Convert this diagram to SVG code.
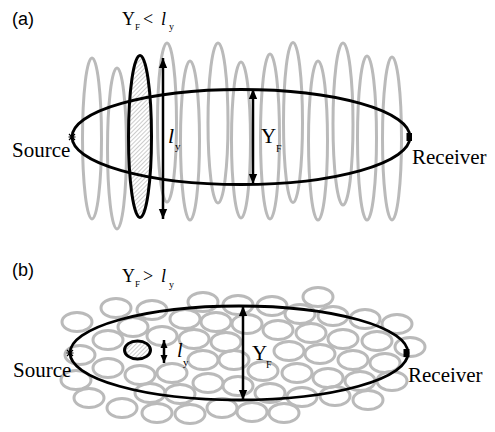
<svg xmlns="http://www.w3.org/2000/svg" width="495" height="432" viewBox="0 0 495 432">
<style>
.g{fill:none;stroke:#bababa;stroke-width:3}
.k{fill:none;stroke:#000;stroke-width:2.8}
.h{fill:url(#hatch);stroke:#000;stroke-width:3}
.t{font-family:"Liberation Serif","Times New Roman",serif;fill:#000}
.p{font-family:"Liberation Sans",Arial,sans-serif;font-size:18px;fill:#000}
.ar{stroke:#000;stroke-width:2.5;fill:none}
</style>
<defs>
<pattern id="hatch" patternUnits="userSpaceOnUse" width="3" height="3" patternTransform="rotate(45)">
<rect width="3" height="3" fill="#fff"/>
<line x1="0" y1="0" x2="0" y2="3" stroke="#9a9a9a" stroke-width="1"/>
</pattern>
<marker id="big" markerUnits="userSpaceOnUse" markerWidth="10" markerHeight="14" refX="12" refY="5" viewBox="0 0 12 10" orient="auto-start-reverse">
<path d="M0,0 L12,5 L0,10 z" fill="#000"/>
</marker>
<marker id="sm" markerUnits="userSpaceOnUse" markerWidth="8" markerHeight="8" refX="8" refY="3.5" viewBox="0 0 8 7" orient="auto-start-reverse">
<path d="M0,0 L8,3.5 L0,7 z" fill="#000"/>
</marker>
</defs>

<g id="panel-a">
<text class="p" x="12" y="25">(a)</text>
<text class="t" font-size="18"><tspan x="122" y="25">Y</tspan><tspan x="135" y="30" font-size="9">F</tspan><tspan x="143" y="25">&lt;</tspan><tspan x="161" y="25" font-style="italic">l</tspan><tspan x="169" y="30" font-size="10">y</tspan></text>
<g id="a-cells">
<ellipse class="g" cx="92" cy="138.5" rx="9.5" ry="80.5"/>
<ellipse class="g" cx="117" cy="148.5" rx="9.5" ry="80.5"/>
<ellipse class="g" cx="167" cy="122.5" rx="9.5" ry="79.5"/>
<ellipse class="g" cx="190" cy="140.5" rx="9.5" ry="79.5"/>
<ellipse class="g" cx="218" cy="123" rx="10" ry="80"/>
<ellipse class="g" cx="241" cy="140" rx="9.5" ry="78"/>
<ellipse class="g" cx="270" cy="136.5" rx="9.5" ry="82.5"/>
<ellipse class="g" cx="293" cy="122.5" rx="9.5" ry="80"/>
<ellipse class="g" cx="318" cy="140.5" rx="9.5" ry="79.5"/>
<ellipse class="g" cx="343" cy="124" rx="10" ry="81"/>
<ellipse class="g" cx="367" cy="138" rx="9.5" ry="82"/>
<ellipse class="g" cx="392" cy="138.5" rx="9.5" ry="81.5"/>
</g>
<ellipse id="a-cell-hatched" class="h" cx="140" cy="136.5" rx="11.5" ry="81"/>
<ellipse id="a-fresnel" class="k" cx="241" cy="137" rx="169" ry="47.5"/>
<g id="a-source">
<path d="M69,134 L75,140 M69,140 L75,134 M68.5,137 L75.5,137" stroke="#000" stroke-width="1.2"/>
<text class="t" font-size="21" x="12" y="157">Source</text>
</g>
<g id="a-receiver">
<rect x="406.5" y="133" width="5.5" height="8" fill="#000"/>
<text class="t" font-size="21" x="412" y="164">Receiver</text>
</g>
<text class="t" font-size="22"><tspan x="168" y="143" font-style="italic">l</tspan><tspan x="175" y="150" font-size="11">y</tspan></text>
<text class="t" font-size="21"><tspan x="261" y="143">Y</tspan><tspan x="276" y="152" font-size="10">F</tspan></text>
</g>

<g id="panel-b">
<text class="p" x="12" y="276">(b)</text>
<text class="t" font-size="18"><tspan x="122" y="282">Y</tspan><tspan x="135" y="287" font-size="9">F</tspan><tspan x="143" y="282">&gt;</tspan><tspan x="161" y="282" font-style="italic">l</tspan><tspan x="169" y="288" font-size="10">y</tspan></text>
<g id="b-cells">
<ellipse class="g" cx="116" cy="308" rx="15" ry="9.5"/>
<ellipse class="g" cx="152" cy="310" rx="15" ry="9.5"/>
<ellipse class="g" cx="203" cy="302" rx="15" ry="9.5"/>
<ellipse class="g" cx="238" cy="305" rx="15" ry="9.5"/>
<ellipse class="g" cx="272" cy="306" rx="15" ry="9.5"/>
<ellipse class="g" cx="318" cy="297" rx="15" ry="9.5"/>
<ellipse class="g" cx="77" cy="322" rx="15" ry="9.5"/>
<ellipse class="g" cx="133" cy="327" rx="15" ry="9.5"/>
<ellipse class="g" cx="185" cy="319" rx="15" ry="9.5"/>
<ellipse class="g" cx="216" cy="322" rx="15" ry="9.5"/>
<ellipse class="g" cx="247" cy="324" rx="15" ry="9.5"/>
<ellipse class="g" cx="300" cy="314" rx="15" ry="9.5"/>
<ellipse class="g" cx="333" cy="316" rx="15" ry="9.5"/>
<ellipse class="g" cx="365" cy="319" rx="15" ry="9.5"/>
<ellipse class="g" cx="397" cy="324" rx="15" ry="9.5"/>
<ellipse class="g" cx="108" cy="340" rx="15" ry="9.5"/>
<ellipse class="g" cx="162" cy="336" rx="15" ry="9.5"/>
<ellipse class="g" cx="194" cy="339" rx="15" ry="9.5"/>
<ellipse class="g" cx="226" cy="342" rx="15" ry="9.5"/>
<ellipse class="g" cx="278" cy="330" rx="15" ry="9.5"/>
<ellipse class="g" cx="311" cy="333" rx="15" ry="9.5"/>
<ellipse class="g" cx="343" cy="339" rx="15" ry="9.5"/>
<ellipse class="g" cx="377" cy="341" rx="15" ry="9.5"/>
<ellipse class="g" cx="410" cy="347" rx="15" ry="9.5"/>
<ellipse class="g" cx="80" cy="355" rx="15" ry="9.5"/>
<ellipse class="g" cx="203" cy="360" rx="15" ry="9.5"/>
<ellipse class="g" cx="234" cy="360" rx="15" ry="9.5"/>
<ellipse class="g" cx="289" cy="351" rx="15" ry="9.5"/>
<ellipse class="g" cx="320" cy="354" rx="15" ry="9.5"/>
<ellipse class="g" cx="353" cy="360" rx="15" ry="9.5"/>
<ellipse class="g" cx="385" cy="363" rx="15" ry="9.5"/>
<ellipse class="g" cx="108" cy="368" rx="15" ry="9.5"/>
<ellipse class="g" cx="140" cy="375" rx="15" ry="9.5"/>
<ellipse class="g" cx="172" cy="373" rx="15" ry="9.5"/>
<ellipse class="g" cx="263" cy="371" rx="15" ry="9.5"/>
<ellipse class="g" cx="297" cy="373" rx="15" ry="9.5"/>
<ellipse class="g" cx="328" cy="378" rx="15" ry="9.5"/>
<ellipse class="g" cx="360" cy="381" rx="15" ry="9.5"/>
<ellipse class="g" cx="392" cy="381" rx="15" ry="9.5"/>
<ellipse class="g" cx="76" cy="380" rx="15" ry="9.5"/>
<ellipse class="g" cx="89" cy="398" rx="15" ry="9.5"/>
<ellipse class="g" cx="150" cy="393" rx="15" ry="9.5"/>
<ellipse class="g" cx="180" cy="394" rx="15" ry="9.5"/>
<ellipse class="g" cx="208" cy="383" rx="15" ry="9.5"/>
<ellipse class="g" cx="238" cy="386" rx="15" ry="9.5"/>
<ellipse class="g" cx="270" cy="393" rx="15" ry="9.5"/>
<ellipse class="g" cx="302" cy="397" rx="15" ry="9.5"/>
<ellipse class="g" cx="335" cy="396" rx="15" ry="9.5"/>
<ellipse class="g" cx="368" cy="400" rx="15" ry="9.5"/>
<ellipse class="g" cx="122" cy="408" rx="15" ry="9.5"/>
<ellipse class="g" cx="157" cy="413" rx="15" ry="9.5"/>
<ellipse class="g" cx="190" cy="414" rx="15" ry="9.5"/>
<ellipse class="g" cx="222" cy="408" rx="15" ry="9.5"/>
<ellipse class="g" cx="252" cy="412" rx="15" ry="9.5"/>
<ellipse class="g" cx="284" cy="413" rx="15" ry="9.5"/>
</g>
<ellipse id="b-cell-hatched" class="h" cx="137.5" cy="350" rx="13" ry="9"/>
<ellipse id="b-fresnel" class="k" cx="239" cy="353" rx="169" ry="47"/>
<g id="b-source">
<path d="M67,350 L73,356 M67,356 L73,350 M66.5,353 L73.5,353" stroke="#000" stroke-width="1.2"/>
<text class="t" font-size="21" x="13" y="377">Source</text>
</g>
<g id="b-receiver">
<rect x="403.5" y="349" width="6" height="8" fill="#000"/>
<text class="t" font-size="21" x="408" y="382">Receiver</text>
</g>
<text class="t" font-size="20"><tspan x="177" y="357" font-style="italic">l</tspan><tspan x="183" y="366" font-size="11">y</tspan></text>
<text class="t" font-size="21"><tspan x="252" y="360">Y</tspan><tspan x="266" y="368" font-size="10">F</tspan></text>
</g>

<g id="connectors">
<line class="ar" x1="163" y1="58" x2="163" y2="219" marker-start="url(#big)" marker-end="url(#big)"/>
<line class="ar" x1="253" y1="89" x2="253" y2="184" marker-start="url(#big)" marker-end="url(#big)"/>
<line class="ar" x1="243" y1="306" x2="243" y2="400" marker-start="url(#big)" marker-end="url(#big)"/>
<line class="ar" x1="164" y1="340" x2="164" y2="363" stroke-width="2" marker-start="url(#sm)" marker-end="url(#sm)"/>
</g>
</svg>
